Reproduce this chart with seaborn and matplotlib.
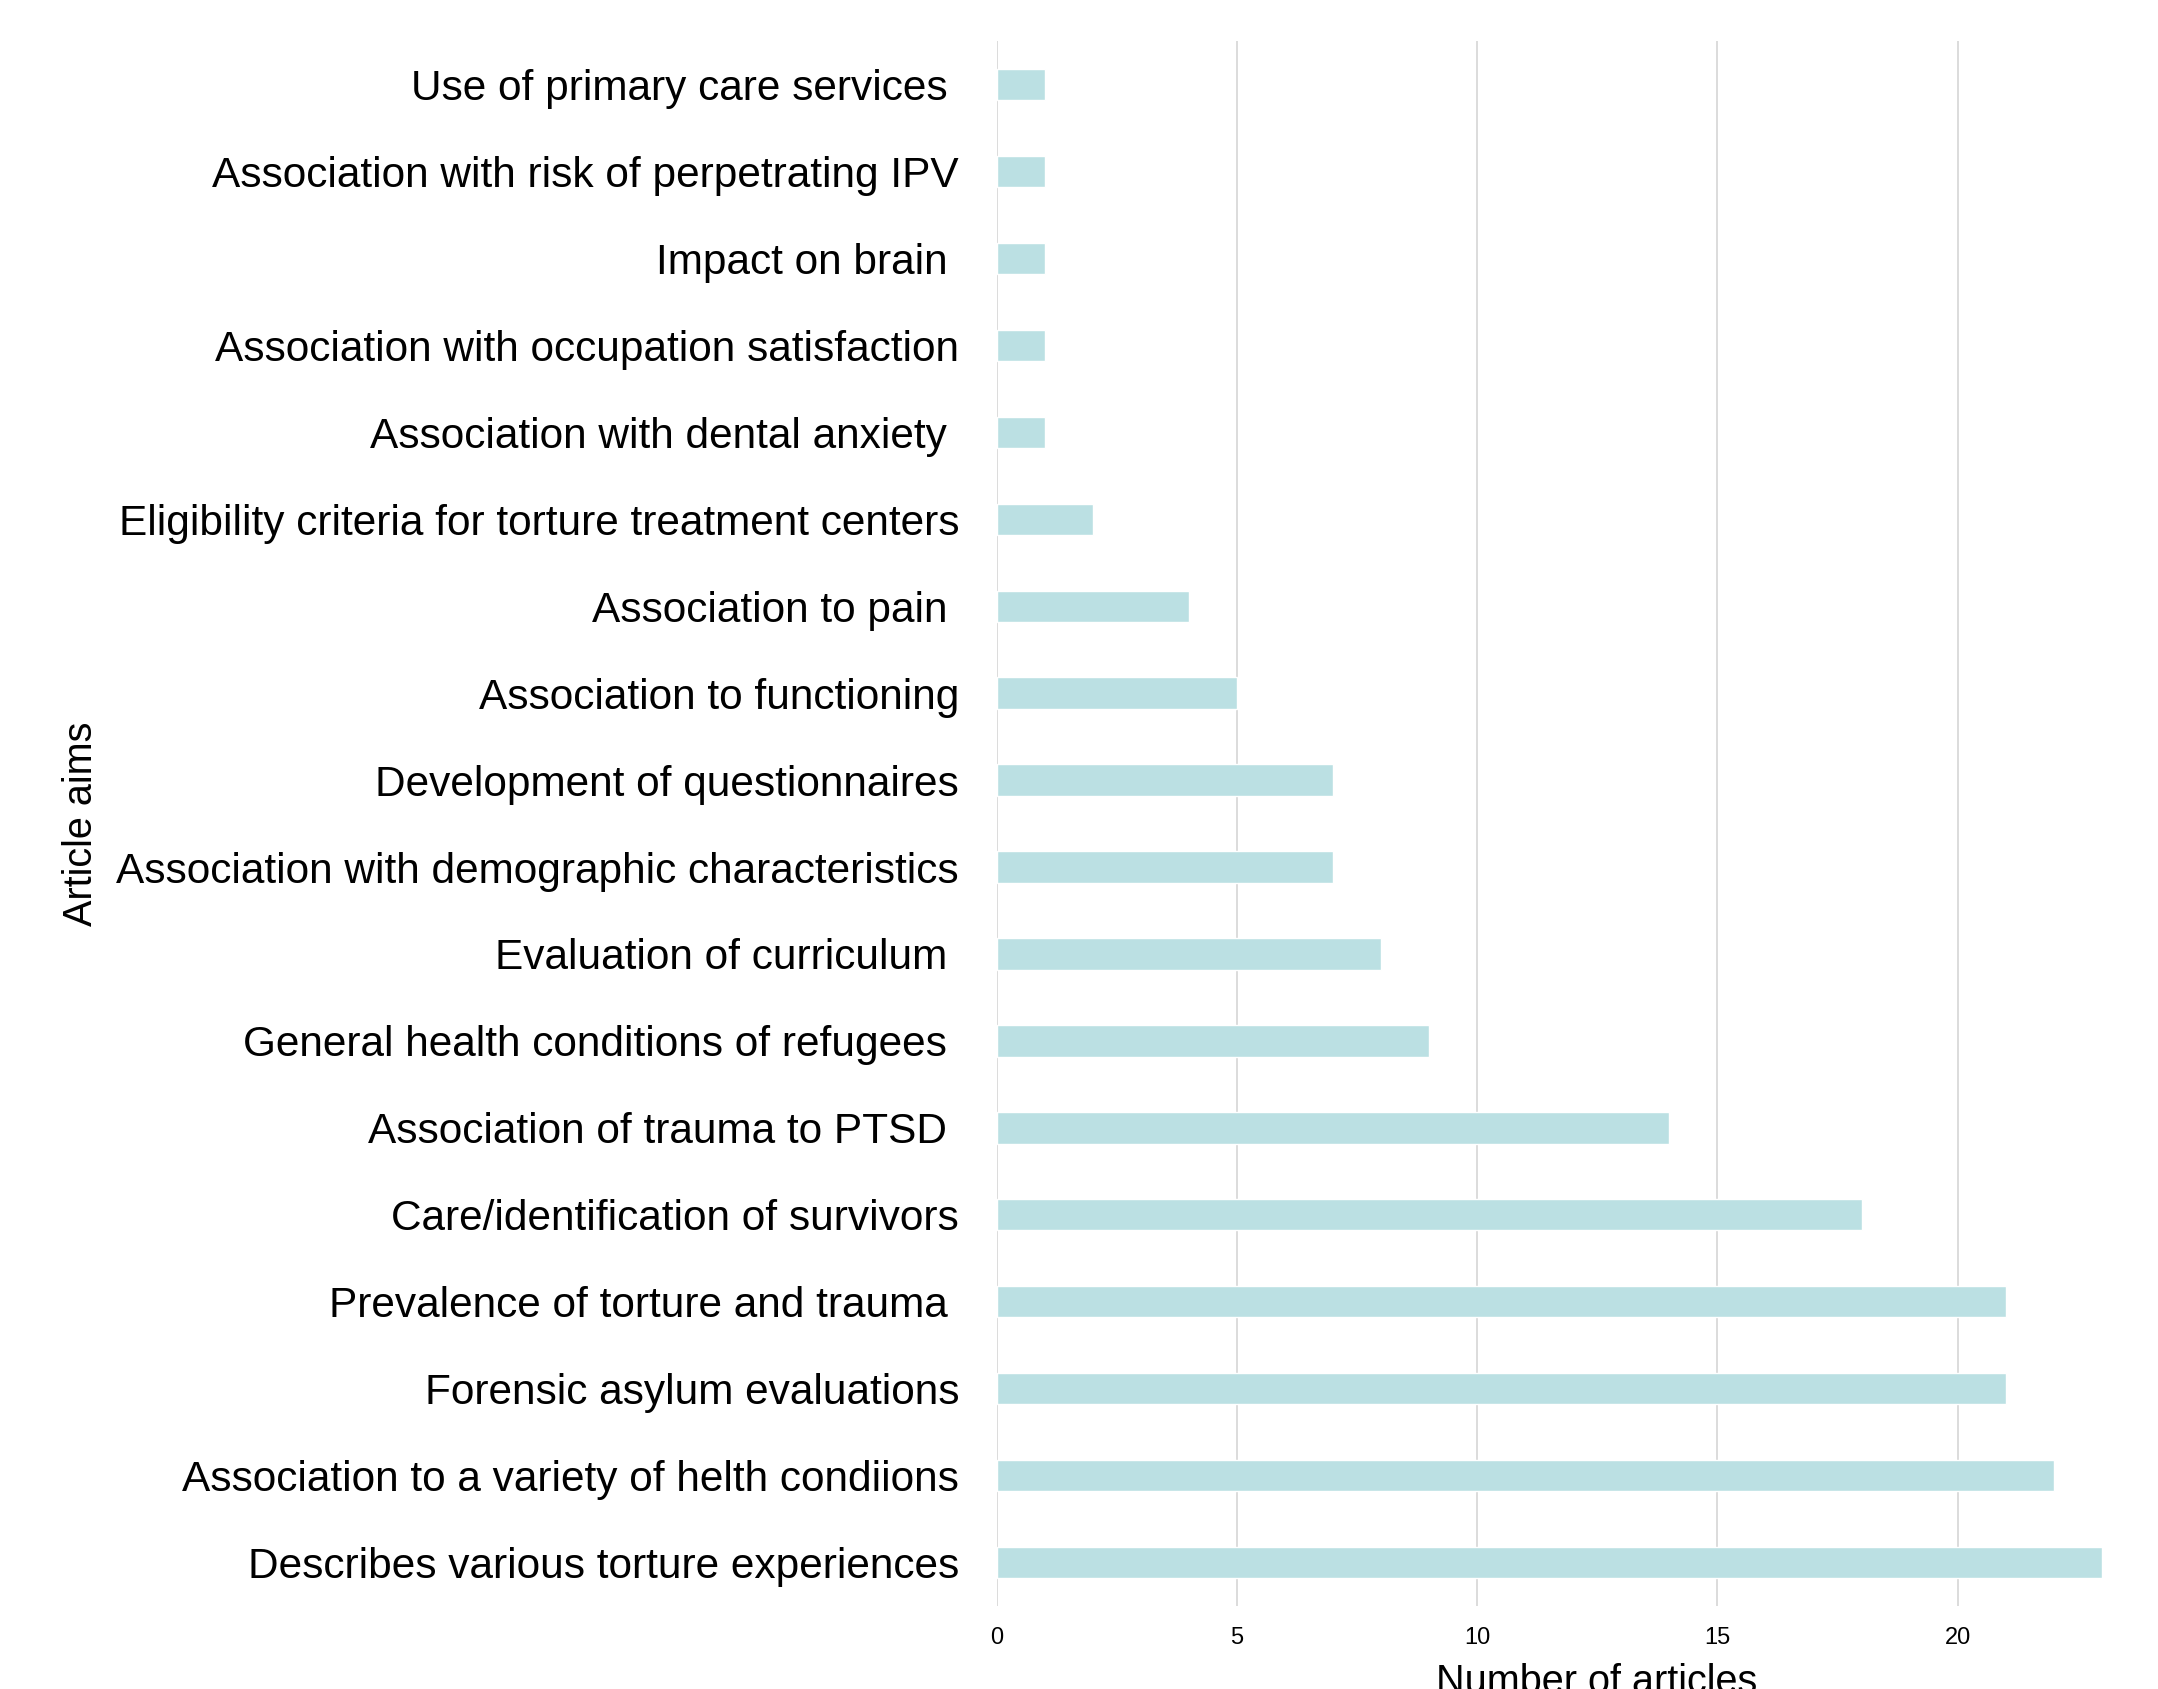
import matplotlib
matplotlib.use("Agg")
import matplotlib.pyplot as plt
import seaborn as sns
import pandas as pd
from matplotlib import font_manager

# Article aims (top to bottom) and how many articles address each
aims = [
    "Use of primary care services ",
    "Association with risk of perpetrating IPV",
    "Impact on brain ",
    "Association with occupation satisfaction",
    "Association with dental anxiety ",
    "Eligibility criteria for torture treatment centers",
    "Association to pain ",
    "Association to functioning",
    "Development of questionnaires",
    "Association with demographic characteristics",
    "Evaluation of curriculum ",
    "General health conditions of refugees ",
    "Association of trauma to PTSD ",
    "Care/identification of survivors",
    "Prevalence of torture and trauma ",
    "Forensic asylum evaluations",
    "Association to a variety of helth condiions",
    "Describes various torture experiences",
]
n_articles = [1, 1, 1, 1, 1, 2, 4, 5, 7, 7, 8, 9, 14, 18, 21, 21, 22, 23]
x_ticks = [0, 5, 10, 15, 20]

df = pd.DataFrame({"aim": aims, "count": n_articles})

sns.set_theme(style="white")
plt.rcParams["font.family"] = ["Liberation Sans", "DejaVu Sans"]
plt.rcParams["text.color"] = "black"
plt.rcParams["axes.labelcolor"] = "black"
plt.rcParams["xtick.color"] = "black"
plt.rcParams["ytick.color"] = "black"

available = {f.name for f in font_manager.fontManager.ttflist}
tick_family = ["Liberation Sans Narrow"] if "Liberation Sans Narrow" in available else ["Liberation Sans"]

fig = plt.figure(figsize=(21.58, 16.89), dpi=100)
ax = fig.add_axes([0.4618, 0.0491, 0.5122, 0.9266])

sns.barplot(data=df, x="count", y="aim", orient="h", color="#BBE0E3",
            saturation=1, width=0.36, ax=ax, zorder=2)

ax.set_xlim(0, 23)
ax.set_ylim(len(aims) - 0.5, -0.5)
ax.set_xticks(x_ticks)
ax.set_xticklabels([str(t) for t in x_ticks], fontsize=17, family=tick_family)
ax.tick_params(axis="x", length=0, pad=15)
ax.tick_params(axis="y", length=0, pad=27, labelsize=30.5)

ax.grid(axis="x", color="#d9d9d9", linewidth=1.3, zorder=0)
ax.set_axisbelow(True)
for s in ax.spines.values():
    s.set_visible(False)

ax.set_xlabel("Number of articles", fontsize=28.5)
ax.xaxis.set_label_coords(0.543, -0.0364)
ax.set_ylabel("Article aims", fontsize=28.5)
ax.yaxis.set_label_coords(-0.811, 0.5)

fig.savefig("out.png", dpi=100)
